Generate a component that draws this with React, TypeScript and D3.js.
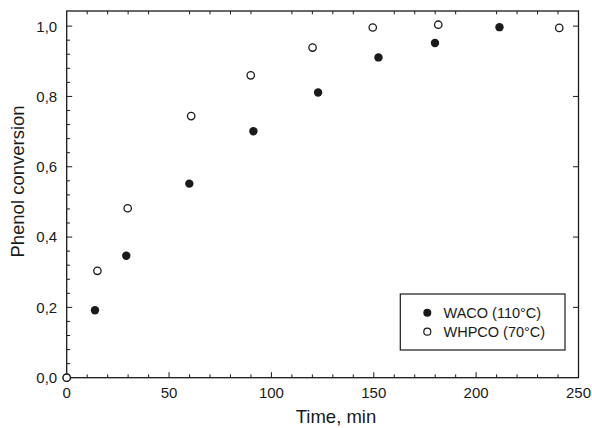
import { useEffect, useRef } from "react";
import * as d3 from "d3";

// WACO (110°C) — filled circles
const wacoTime = [0, 13.8, 29.1, 59.9, 91.2, 122.8, 152.3, 179.9, 211.4];
const wacoConv = [0, 0.192, 0.347, 0.552, 0.701, 0.811, 0.911, 0.952, 0.997];

// WHPCO (70°C) — open circles
const whpcoTime = [0, 15.0, 29.8, 60.8, 89.9, 120.1, 149.5, 181.5, 240.6];
const whpcoConv = [0, 0.304, 0.482, 0.744, 0.86, 0.939, 0.996, 1.004, 0.995];

const xTicks = [0, 50, 100, 150, 200, 250];
const yTicks = [0, 0.2, 0.4, 0.6, 0.8, 1.0];
const legendLabels = ["WACO (110°C)", "WHPCO (70°C)"];

export default function App() {
  const ref = useRef<SVGSVGElement>(null);

  useEffect(() => {
    if (!ref.current) return;
    const svg = d3.select(ref.current);
    svg.selectAll("*").remove();

    const left = 66.7,
      right = 578.5,
      top = 11,
      bottom = 377.7;
    const ink = "#1a1a1a";
    const font = "'Liberation Sans', Arial, sans-serif";

    const x = d3.scaleLinear().domain([0, 250]).range([left, right]);
    const y = d3.scaleLinear().domain([0, 1.043]).range([bottom, top]);

    // frame
    svg
      .append("rect")
      .attr("x", left)
      .attr("y", top)
      .attr("width", right - left)
      .attr("height", bottom - top)
      .attr("fill", "none")
      .attr("stroke", ink)
      .attr("stroke-width", 1.3);

    const g = svg.append("g").attr("stroke", ink).attr("stroke-width", 1);

    // x ticks: bottom minor+major, top minor only
    d3.range(0, 251, 10).forEach((v) => {
      const major = v % 50 === 0;
      if (v > 0 && v < 250) {
        g.append("line")
          .attr("x1", x(v))
          .attr("x2", x(v))
          .attr("y1", bottom)
          .attr("y2", bottom - (major ? 5.5 : 3.3));
        if (!major)
          g.append("line")
            .attr("x1", x(v))
            .attr("x2", x(v))
            .attr("y1", top)
            .attr("y2", top + 3.3);
      }
    });

    // y ticks: left minor+major, right major only
    d3.range(0, 26).forEach((i) => {
      const v = i * 0.04;
      const major = i % 5 === 0;
      if (i > 0) {
        g.append("line")
          .attr("x1", left)
          .attr("x2", left + (major ? 5.5 : 3.3))
          .attr("y1", y(v))
          .attr("y2", y(v));
        if (major)
          g.append("line")
            .attr("x1", right)
            .attr("x2", right - 5.5)
            .attr("y1", y(v))
            .attr("y2", y(v));
      }
    });

    // tick labels
    svg
      .append("g")
      .selectAll("text")
      .data(xTicks)
      .join("text")
      .attr("x", (d) => x(d))
      .attr("y", 397.5)
      .attr("text-anchor", "middle")
      .attr("font-family", font)
      .attr("font-size", 15)
      .attr("fill", ink)
      .text((d) => d);

    svg
      .append("g")
      .selectAll("text")
      .data(yTicks)
      .join("text")
      .attr("x", left - 9.5)
      .attr("y", (d) => y(d) + 5.4)
      .attr("text-anchor", "end")
      .attr("font-family", font)
      .attr("font-size", 15)
      .attr("fill", ink)
      .text((d) => d.toFixed(1).replace(".", ","));

    // axis titles
    svg
      .append("text")
      .attr("x", 336)
      .attr("y", 423)
      .attr("text-anchor", "middle")
      .attr("font-family", font)
      .attr("font-size", 18.5)
      .attr("fill", ink)
      .text("Time, min");

    svg
      .append("text")
      .attr("transform", `translate(24,181.5) rotate(-90)`)
      .attr("text-anchor", "middle")
      .attr("font-family", font)
      .attr("font-size", 18.5)
      .attr("fill", ink)
      .text("Phenol conversion");

    // data
    svg
      .append("g")
      .selectAll("circle")
      .data(wacoTime.map((t, i) => [t, wacoConv[i]]))
      .join("circle")
      .attr("cx", (d) => x(d[0]))
      .attr("cy", (d) => y(d[1]))
      .attr("r", 4.2)
      .attr("fill", ink);

    svg
      .append("g")
      .selectAll("circle")
      .data(whpcoTime.map((t, i) => [t, whpcoConv[i]]))
      .join("circle")
      .attr("cx", (d) => x(d[0]))
      .attr("cy", (d) => y(d[1]))
      .attr("r", 3.7)
      .attr("fill", "white")
      .attr("stroke", ink)
      .attr("stroke-width", 1.3);

    // legend
    const lg = svg.append("g");
    lg.append("rect")
      .attr("x", 400.3)
      .attr("y", 294)
      .attr("width", 164.7)
      .attr("height", 56)
      .attr("fill", "white")
      .attr("stroke", ink)
      .attr("stroke-width", 1.2);
    legendLabels.forEach((label, i) => {
      const cy = 312.7 + i * 19;
      lg.append("circle")
        .attr("cx", 427.3)
        .attr("cy", cy)
        .attr("r", i === 0 ? 4 : 3.5)
        .attr("fill", i === 0 ? ink : "white")
        .attr("stroke", ink)
        .attr("stroke-width", i === 0 ? 0 : 1.2);
      lg.append("text")
        .attr("x", 443.5)
        .attr("y", cy + 5.2)
        .attr("font-family", font)
        .attr("font-size", 14.5)
        .attr("fill", ink)
        .text(label);
    });
  }, []);

  return (
    <svg
      ref={ref}
      width={592}
      height={428}
      style={{ position: "absolute", left: 0, top: 0, background: "white" }}
    />
  );
}
